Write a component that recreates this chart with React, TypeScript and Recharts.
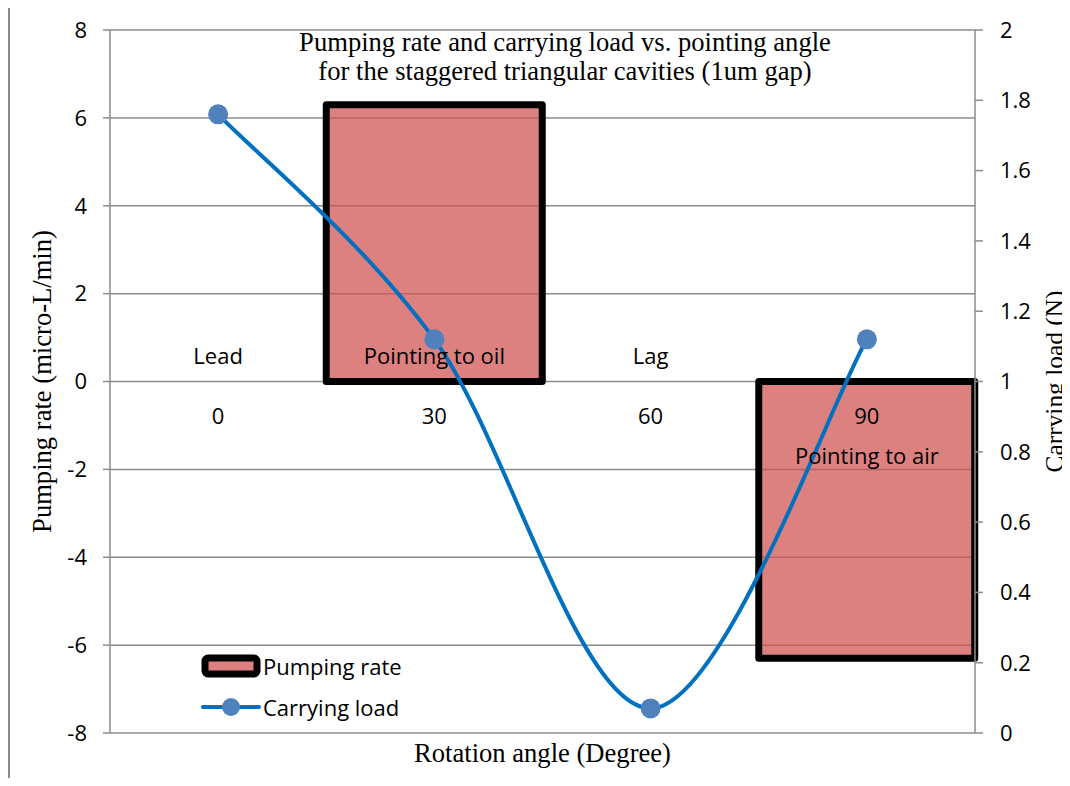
import React from 'react';
import {
  ComposedChart,
  Bar,
  Line,
  XAxis,
  YAxis,
  CartesianGrid,
  Legend,
  ReferenceDot,
} from 'recharts';

const angles = ['0', '30', '60', '90'];
const phaseLabels = ['Lead', 'Pointing to oil', 'Lag', 'Pointing to air'];
const pumpingRate = [0, 6.3, 0, -6.3];
const carryingLoad = [1.76, 1.12, 0.07, 1.12];
const leftTicks = [-8, -6, -4, -2, 0, 2, 4, 6, 8];
const rightTicks = [0, 0.2, 0.4, 0.6, 0.8, 1, 1.2, 1.4, 1.6, 1.8, 2];

const data = angles.map((angle, i) => ({
  angle,
  pump: pumpingRate[i],
  load: carryingLoad[i],
}));

const SANS = '"Open Sans", sans-serif';
const SERIF = '"Liberation Serif", "Times New Roman", serif';
const GRID = '#8c8c8c';
const BAR_FILL = '#CF4F4F';
const LINE_COLOR = '#0070C0';
const DOT_COLOR = '#4F81BD';

// smoothed line like the spreadsheet one (catmull-rom style bezier)
const smoothCurve = (context: any) => {
  let pts: [number, number][] = [];
  return {
    areaStart() {},
    areaEnd() {},
    lineStart() {
      pts = [];
    },
    point(x: number, y: number) {
      pts.push([x, y]);
    },
    lineEnd() {
      if (!pts.length) return;
      context.moveTo(pts[0][0], pts[0][1]);
      const t = 1 / 6;
      for (let i = 0; i < pts.length - 1; i++) {
        const p0 = pts[i - 1] || pts[i];
        const p1 = pts[i];
        const p2 = pts[i + 1];
        const p3 = pts[i + 2] || p2;
        context.bezierCurveTo(
          p1[0] + (p2[0] - p0[0]) * t,
          p1[1] + (p2[1] - p0[1]) * t,
          p2[0] - (p3[0] - p1[0]) * t,
          p2[1] - (p3[1] - p1[1]) * t,
          p2[0],
          p2[1]
        );
      }
    },
  };
};

const categoryLabel = (i: number) => (props: any) => {
  const vb = props.viewBox || {};
  const cx = vb.x + (vb.width || 0) / 2;
  const cy = vb.y + (vb.height || 0) / 2;
  const below = pumpingRate[i] < 0;
  const style = { fontFamily: SANS, fontSize: 22, fill: '#000' };
  return (
    <g>
      <text x={cx} y={cy + 33} textAnchor="middle" dominantBaseline="central" style={style}>
        {angles[i]}
      </text>
      <text x={cx} y={below ? cy + 73 : cy - 27} textAnchor="middle" dominantBaseline="central" style={style}>
        {phaseLabels[i]}
      </text>
    </g>
  );
};

const axisTitle = (text: string, dx: number, dy: number, angle: number, size = 26.6) => (props: any) => {
  const vb = props.viewBox || {};
  const x = vb.x + vb.width / 2 + dx;
  const y = vb.y + vb.height / 2 + dy;
  return (
    <text
      x={x}
      y={y}
      textAnchor="middle"
      dominantBaseline="central"
      transform={angle ? `rotate(${angle}, ${x}, ${y})` : undefined}
      style={{ fontFamily: SERIF, fontSize: size, fill: '#000' }}
    >
      {text}
    </text>
  );
};

const renderLegend = () => (
  <div style={{ fontFamily: SANS, fontSize: 22, color: '#000' }}>
    <div style={{ display: 'flex', alignItems: 'center', height: 41 }}>
      <svg width={62} height={24} style={{ marginRight: 2 }}>
        <rect x={6} y={4} width={52} height={16} rx={3} fill={BAR_FILL} fillOpacity={0.72} stroke="#000" strokeWidth={7} strokeLinejoin="round" />
      </svg>
      <span>Pumping rate</span>
    </div>
    <div style={{ display: 'flex', alignItems: 'center', height: 41 }}>
      <svg width={62} height={24} style={{ marginRight: 2 }}>
        <line x1={4} y1={12} x2={60} y2={12} stroke={LINE_COLOR} strokeWidth={4} strokeLinecap="round" />
        <circle cx={32} cy={12} r={9} fill={DOT_COLOR} />
      </svg>
      <span>Carrying load</span>
    </div>
  </div>
);

export default function App() {
  return (
    <div
      style={{
        position: 'relative',
        width: 1070,
        height: 786,
        margin: -8,
        overflow: 'hidden',
        background: '#fff',
      }}
    >
      <div
        style={{
          position: 'absolute',
          left: 8,
          top: 5,
          width: 2000,
          height: 2000,
          borderLeft: `2px solid ${GRID}`,
          borderTop: `2px solid ${GRID}`,
        }}
      />
      <div
        style={{
          position: 'absolute',
          left: 265,
          top: 28,
          width: 600,
          textAlign: 'center',
          fontFamily: SERIF,
          fontSize: 26.6,
          lineHeight: '29px',
          color: '#000',
          zIndex: 2,
        }}
      >
        Pumping rate and carrying load vs. pointing angle
        <br />
        for the staggered triangular cavities (1um gap)
      </div>
      <ComposedChart
        width={1070}
        height={786}
        data={data}
        margin={{ top: 30, right: 0, bottom: 0, left: 0 }}
        barCategoryGap={0}
        style={{ position: 'absolute', left: 0, top: 0 }}
      >
        <CartesianGrid yAxisId="left" vertical={false} stroke={GRID} strokeWidth={1.5} />
        <XAxis
          dataKey="angle"
          height={53}
          tick={false}
          tickLine={false}
          axisLine={false}
          label={axisTitle('Rotation angle (Degree)', 0, -6.5, 0)}
        />
        <YAxis
          yAxisId="left"
          width={110}
          domain={[-8, 8]}
          ticks={leftTicks}
          interval={0}
          tickSize={7}
          tickMargin={16}
          stroke={GRID}
          strokeWidth={1.5}
          tick={{ fontFamily: SANS, fontSize: 22, fill: '#000' }}
          label={axisTitle('Pumping rate (micro-L/min)', -13, 0, -90)}
        />
        <YAxis
          yAxisId="right"
          orientation="right"
          width={95}
          domain={[0, 2]}
          ticks={rightTicks}
          interval={0}
          tickSize={8}
          tickMargin={17}
          stroke={GRID}
          strokeWidth={1.5}
          tick={{ fontFamily: SANS, fontSize: 22, fill: '#000', textAnchor: 'start' }}
          label={axisTitle('Carrying load (N)', 31, 0, -90, 25.4)}
        />
        <Bar
          yAxisId="left"
          dataKey="pump"
          name="Pumping rate"
          fill={BAR_FILL}
          fillOpacity={0.72}
          stroke="#000"
          strokeWidth={7}
          strokeLinejoin="round"
          isAnimationActive={false}
        />
        {angles.map((a, i) => (
          <ReferenceDot
            key={a}
            x={a}
            y={0}
            yAxisId="left"
            r={1}
            fill="none"
            stroke="none"
            label={categoryLabel(i)}
          />
        ))}
        <Line
          yAxisId="right"
          dataKey="load"
          name="Carrying load"
          type={smoothCurve as any}
          stroke={LINE_COLOR}
          strokeWidth={4}
          dot={{ r: 10, fill: DOT_COLOR, stroke: 'none', strokeWidth: 0 }}
          activeDot={false}
          isAnimationActive={false}
        />
        <Legend
          layout="vertical"
          align="center"
          verticalAlign="middle"
          content={renderLegend}
          wrapperStyle={{ left: 199, top: 645, width: 260, height: 82 }}
        />
      </ComposedChart>
    </div>
  );
}
